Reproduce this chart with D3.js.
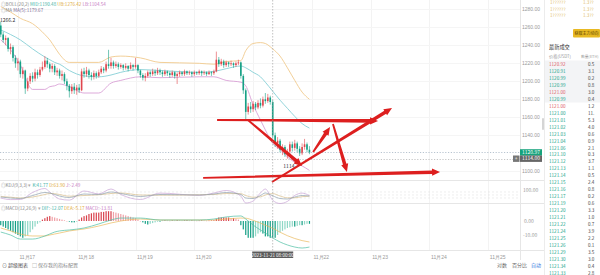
<!DOCTYPE html>
<html><head><meta charset="utf-8">
<script src="https://cdn.jsdelivr.net/npm/d3@7"></script>
<style>
html,body{margin:0;padding:0;background:#fff;overflow:hidden}
svg{display:block;font-family:"Noto Sans CJK SC","Noto Sans",sans-serif}
</style></head><body>
<svg id="c" width="600" height="275"></svg>
<script>
// ---------------- DATA ----------------
const startTime = new Date(2023, 10, 16, 17, 0, 0); // first hourly candle
const firstOpen = 1262;
const closes = [1252,1246,1248,1236,1238,1226,1220,1222,1208,1212,1192,1200,1206,1203,1210,1207,1213,1216,1223,1219,
1214,1217,1210,1212,1206,1208,1200,1195,1189,1194,1190,1193,1190,1211,1208,1212,1207,1205,1209,1206,
1210,1214,1212,1219,1217,1221,1217,1219,1216,1218,1215,1217,1214,1218,1216,1218,1212,1207,1204,1206,
1210,1208,1211,1209,1212,1210,1208,1211,1209,1207,1210,1206,1208,1210,1208,1211,1209,1210,1208,1210,
1209,1211,1209,1210,1208,1210,1209,1211,1224,1219,1222,1218,1221,1219,1220,1218,1220,1221,1206,1190,
1166,1172,1169,1175,1171,1176,1173,1180,1178,1182,1177,1140,1131,1134,1124,1127,1119,1122,1130,1126,
1131,1125,1120,1127,1130,1124,1121];
const highs = [1266.2,1255,1251,1249,1242,1240,1229,1226,1224,1216,1213,1204,1209,1210,1214,1213,1216,1222,1228,1226,
1221,1220,1219,1215,1214,1212,1210,1203,1197,1197,1198,1196,1197,1214,1215,1216,1214,1210,1212,1211,
1213,1217,1216,1222,1235,1226,1223,1222,1221,1220,1219,1220,1218,1221,1219,1226,1219,1213,1209,1209,
1212,1212,1214,1213,1215,1214,1212,1213,1212,1211,1212,1211,1210,1212,1211,1213,1212,1212,1211,1212,
1211,1213,1212,1212,1211,1212,1211,1213,1233,1227,1225,1224,1223,1222,1223,1221,1222,1224,1222,1208,
1192,1176,1177,1178,1177,1179,1181,1183,1187,1186,1184,1179,1143,1138,1136,1130,1129,1125,1133,1133,
1135,1133,1128,1131,1136,1132,1128];
const lows = [1249,1243,1240,1233,1230,1222,1215,1212,1204,1203,1186,1189,1197,1199,1200,1203,1205,1211,1214,1215,
1210,1210,1207,1206,1203,1201,1197,1190,1182,1186,1186,1185,1187,1189,1204,1205,1203,1201,1202,1203,
1204,1208,1209,1210,1214,1214,1214,1215,1213,1214,1212,1213,1211,1213,1212,1214,1209,1204,1201,1200,
1204,1205,1206,1206,1207,1207,1205,1206,1206,1204,1205,1203,1197,1205,1206,1206,1207,1207,1205,1206,
1207,1207,1206,1207,1206,1207,1206,1207,1210,1216,1217,1215,1216,1216,1217,1215,1216,1218,1203,1186,
1158,1163,1165,1166,1168,1169,1170,1171,1175,1176,1174,1137,1127,1125,1121,1118,1116,1114,1119,1122,
1123,1121,1117,1118,1124,1121,1119];

// indicator samples (hour offsets from startTime)
const sampleHours = [0,4,8,13,18,20,22,24,28,34,40,45,49,57,65,81,87,92,98,100,103,106,108,111,114,117,120,123,126];
const bollUB  = [1283,1277,1270,1264,1252,1246,1238,1230,1221,1221,1221,1227,1228,1226,1221,1220,1219,1222,1223,1234,1242,1243,1242,1236,1228,1215,1201,1188,1180];
const bollMID = [1257,1252,1246,1236,1227,1224,1221,1219,1212,1206,1205,1207,1210,1213,1212,1210,1211,1214,1217,1215,1210,1205,1199,1189,1179,1170,1161,1153,1148];
const bollLB  = [1246,1235,1218,1191,1191,1194,1195,1197,1194,1187,1187,1198,1201,1205,1204,1205,1205,1201,1199,1195,1174,1157,1146,1131,1124,1116,1110,1106,1101];
const kdjK = [30,20,15,45,75,70,55,40,25,60,55,80,65,35,55,50,60,75,55,20,15,45,70,41.77,15,10,30,45,40];
const kdjD = [35,28,20,30,55,65,63,55,38,45,52,65,70,50,48,52,55,65,63,45,28,32,50,63.9,40,22,22,33,38];
const kdjJ = [20,4,5,75,115,80,39,10,-1,90,61,110,55,5,69,46,70,95,39,-30,-11,71,110,-2.49,-35,-14,46,69,44];
const macdDIF = [-7.9,-10,-12.9,-12.9,-10.7,-9.3,-7.9,-7.1,-6.4,-5,-2.1,0.7,2.1,2.1,0.7,0.7,1.4,2.9,3.6,1.4,-2.9,-6.4,-8.6,-12.07,-15,-17.1,-18.6,-19.3,-18.6];
const macdDEA = [-5,-7.1,-9.3,-10.7,-10.7,-10,-9.3,-8.6,-7.1,-5.7,-3.6,-1.4,0,1.4,0.7,0.7,0.7,1.4,2.1,2,0.5,-1.5,-3,-5.17,-8,-10.5,-12.5,-14,-15];
const macdHist = [-3,-4,-5,-6,-7,-8,-9,-10,-11,-12,-11,-10,-8,-6,-4,-2,-1,1,2,3,
3.5,3,2.5,2,1.5,1,0.5,0,-0.5,-1,-1,-0.5,1,2.5,3.5,4,5,5.5,6,6,
6,6.5,6.5,7,7,7,6.5,6,5.5,5,4.5,4,3.5,3,2.5,2,1,0,-1,-2,
-2.5,-2,-1.5,-1,-0.5,-0.5,0.3,0.4,0.3,0.2,0.4,0.3,0.5,0.4,0.3,0.4,0.5,0.3,0.4,0.3,
0.2,0.3,0.4,0.3,0.2,0.3,0.4,0.5,1.5,2.5,2.5,2.5,2.5,2.5,2,2,1.5,1,-3,-6,
-10,-12,-12,-12,-11,-9,-8,-9,-11,-11,-12,-12,-12,-10,-8,-7,-6,-5,-4.5,-4,
-4,-3.5,-3,-3,-2.5,-2,-2];

const priceTicks = [1280,1260,1240,1220,1200,1180,1160,1140,1100];
const dayTicks = [17,18,19,20,21,22,23,24,25];
const dayLabels = [17,18,19,20,22,23,24,25]; // 11月21 is covered by the crosshair tag
const lastPrice = 1120.97;
const markPrice = 1114.00;
const crossHour = 111;

// hand drawn red arrows: [hour0, price0, hour1, price1]
const drawings = [
  [88.3,1157,154,1156],
  [110.7,1088,159.7,1170.3],
  [100.9,1157,123,1106],
  [127.5,1121.4,134.4,1149.2],
  [135.6,1152.6,141.3,1099.2],
  [82.6,1092.6,179.3,1099.2]
];

const bookPrices = ["1120.92","1120.91","1120.99","1120.99","1121.00","1120.99","1121.00","1121.00","1121.01","1121.02","1121.03","1121.04","1121.06","1121.10","1121.12","1121.13","1121.14","1121.15","1121.16","1121.17","1121.19","1121.20","1121.21","1121.22","1121.24","1121.25","1121.26","1121.29","1121.30","1121.34","1121.33"];
const bookSides = ["s","b","b","b","s","b","s","b","b","b","b","b","b","b","b","b","b","b","b","b","b","b","b","b","b","b","b","b","b","b","b"];
const bookQty = ["0.5","3.1","0.2","0.8","3.0","0.4","1.2","11.","5.3","4.0","0.6","0.9","2.1","0.3","3.7","1.1","0.5","2.4","0.8","0.2","0.6","3.3","1.0","0.7","3.9","2.2","0.1","3.5","3.0","0.4","2.8"];
const bookTop = [["1??????","1.3??"],["1??????","1.3??"],["1??????","1.3??"]];

// ---------------- DRAW ----------------
const svg = d3.select("#c");
const W = 600, H = 275;
const plotR = 520;
const hourMs = 3600e3;
const tOf = h => new Date(startTime.getTime() + h*hourMs);

const x = d3.scaleTime()
  .domain([new Date(2023,10,17), new Date(2023,10,22)])
  .range([17.9, 311.9]);
const y = d3.scaleLinear().domain([1100,1280]).range([171.3, 9.3]);
const yK = d3.scaleLinear().domain([0,100]).range([200, 190]);
const yM = d3.scaleLinear().domain([-10,0]).range([235, 221]);

const fontS = 5;
const gray = "#9a9a9a";

svg.append("rect").attr("width",W).attr("height",H).attr("fill","#fff");

const defs = svg.append("defs");
defs.append("clipPath").attr("id","cm").append("rect").attr("x",0).attr("y",0).attr("width",plotR).attr("height",180);
defs.append("clipPath").attr("id","ck").append("rect").attr("x",0).attr("y",181).attr("width",plotR).attr("height",23);
defs.append("clipPath").attr("id","cd").append("rect").attr("x",0).attr("y",204).attr("width",plotR).attr("height",46);

// grid
const grid = svg.append("g");
dayTicks.forEach(d => {
  const xx = Math.round(x(new Date(2023,10,d))) + 0.5;
  grid.append("line").attr("x1",xx).attr("x2",xx).attr("y1",0).attr("y2",250).attr("stroke","#f3f3f3");
});
priceTicks.forEach(p => {
  const yy = Math.round(y(p)) + 0.5;
  grid.append("line").attr("x1",0).attr("x2",plotR).attr("y1",yy).attr("y2",yy).attr("stroke","#f5f5f5");
});
// pane separators
[180.5, 203.5, 250.5].forEach(yy => svg.append("line").attr("x1",0).attr("x2",544).attr("y1",yy).attr("y2",yy).attr("stroke","#e6e6e6"));
svg.append("line").attr("x1",520.5).attr("x2",520.5).attr("y1",0).attr("y2",260).attr("stroke","#e6e6e6");
svg.append("line").attr("x1",544.5).attr("x2",544.5).attr("y1",0).attr("y2",H).attr("stroke","#ececec");

// ----- main pane -----
const main = svg.append("g").attr("clip-path","url(#cm)");
const lineS = (vals, ys) => d3.line().x((d,i)=>x(tOf(sampleHours[i]))).y(d=>ys(d)).curve(d3.curveMonotoneX)(vals);
main.append("path").attr("d", lineS(bollUB, y)).attr("fill","none").attr("stroke","#f0c98c").attr("stroke-width",0.9);
main.append("path").attr("d", lineS(bollMID, y)).attr("fill","none").attr("stroke","#86cfd6").attr("stroke-width",0.9);
main.append("path").attr("d", lineS(bollLB, y)).attr("fill","none").attr("stroke","#d9a0d6").attr("stroke-width",0.9);

const up = "#e0464e", down = "#16a085";
const candles = closes.map((c,i)=>({t:tOf(i), o: i ? closes[i-1] : firstOpen, c, h: highs[i], l: lows[i]}));
const cg = main.append("g");
candles.forEach(d => {
  const cx = x(d.t);
  const col = d.c >= d.o ? up : down;
  cg.append("line").attr("x1",cx).attr("x2",cx).attr("y1",y(Math.max(d.h,d.o,d.c))).attr("y2",y(Math.min(d.l,d.o,d.c))).attr("stroke",col).attr("stroke-width",0.6);
  const top = y(Math.max(d.o,d.c)), bot = y(Math.min(d.o,d.c));
  cg.append("rect").attr("x",cx-0.8).attr("width",1.6).attr("y",top).attr("height",Math.max(0.6,bot-top)).attr("fill",col);
});

// price level dotted lines
[[lastPrice,"#9ab"],[markPrice,"#aaa"]].forEach(([p,c]) => {
  const yy = Math.round(y(p))+0.5;
  svg.append("line").attr("x1",0).attr("x2",plotR).attr("y1",yy).attr("y2",yy).attr("stroke",c).attr("stroke-width",0.7).attr("stroke-dasharray","1.2,1.6");
});

// high / low markers
const hiIdx = d3.maxIndex(highs), loIdx = d3.minIndex(lows);
main.append("text").attr("x",0).attr("y",y(highs[hiIdx])+0.5).attr("font-size",fontS).attr("fill","#333").text(highs[hiIdx].toFixed(1));
main.append("text").attr("x",x(tOf(loIdx))+1.5).attr("y",y(lows[loIdx])+9).attr("text-anchor","middle").attr("font-size",fontS).attr("fill","#333").text(String(lows[loIdx]));

// red arrows
const ar = svg.append("g");
drawings.forEach(([h0,p0,h1,p1]) => {
  const x0 = x(tOf(h0)), y0 = y(p0), x1 = x(tOf(h1)), y1 = y(p1);
  const L = Math.hypot(x1-x0, y1-y0), ux = (x1-x0)/L, uy = (y1-y0)/L, nx = -uy, ny = ux;
  const hl = 8, hw = 3.6, w0 = 0.9, w1 = 1.8;
  const bx = x1 - ux*hl, by = y1 - uy*hl;
  const pts = [[x0+nx*w0,y0+ny*w0],[bx+nx*w1,by+ny*w1],[bx+nx*hw,by+ny*hw],[x1,y1],[bx-nx*hw,by-ny*hw],[bx-nx*w1,by-ny*w1],[x0-nx*w0,y0-ny*w0]];
  ar.append("path").attr("d","M"+pts.map(p=>p.join(",")).join("L")+"Z").attr("fill","#dd1f1f");
});

// ----- KDJ pane -----
const kg = svg.append("g").attr("clip-path","url(#ck)");
[80,50,20].forEach(v=>{
  kg.append("line").attr("x1",0).attr("x2",plotR).attr("y1",yK(v)).attr("y2",yK(v)).attr("stroke","#e3e3e3").attr("stroke-width",0.6).attr("stroke-dasharray","2,2");
});
kg.append("path").attr("d", lineS(kdjJ, yK)).attr("fill","none").attr("stroke","#c9a3d6").attr("stroke-width",0.7);
kg.append("path").attr("d", lineS(kdjD, yK)).attr("fill","none").attr("stroke","#d9bd8a").attr("stroke-width",0.7);
kg.append("path").attr("d", lineS(kdjK, yK)).attr("fill","none").attr("stroke","#8e9fae").attr("stroke-width",0.7);

// ----- MACD pane -----
const mg = svg.append("g").attr("clip-path","url(#cd)");
macdHist.forEach((v,i) => {
  const prev = i ? macdHist[i-1] : v;
  const grow = Math.abs(v) >= Math.abs(prev);
  const col = v >= 0 ? (grow ? "#d9434d" : "#f0a0a6") : (grow ? "#14a085" : "#8fd8c6");
  const y0 = yM(0), y1 = yM(v);
  mg.append("rect").attr("x",x(tOf(i))-0.6).attr("width",1.2).attr("y",Math.min(y0,y1)).attr("height",Math.max(0.5,Math.abs(y1-y0))).attr("fill",col);
});
mg.append("path").attr("d", lineS(macdDEA, yM)).attr("fill","none").attr("stroke","#e9b95c").attr("stroke-width",0.7);
mg.append("path").attr("d", lineS(macdDIF, yM)).attr("fill","none").attr("stroke","#4dbfa4").attr("stroke-width",0.7);

// ----- axes -----
const ay = svg.append("g").attr("transform","translate(522,0)")
  .call(d3.axisRight(y).tickValues(priceTicks).tickSize(0).tickPadding(0).tickFormat(d3.format(".2f")));
ay.select(".domain").remove();
ay.selectAll("text").attr("font-size",fontS).attr("fill",gray).attr("font-family","inherit");
svg.append("text").attr("x",523).attr("y",yK(100)).attr("dy","0.35em").attr("font-size",fontS).attr("fill",gray).text("100.00");
svg.append("text").attr("x",524).attr("y",yM(0)).attr("dy","0.35em").attr("font-size",fontS).attr("fill",gray).text("0.00");
svg.append("text").attr("x",523).attr("y",yM(-10)).attr("dy","0.35em").attr("font-size",fontS).attr("fill",gray).text("-10.00");

const ax = svg.append("g").attr("transform","translate(0,251)")
  .call(d3.axisBottom(x).tickValues(dayLabels.map(d=>new Date(2023,10,d))).tickSize(0).tickPadding(4)
    .tickFormat(d => `${d.getMonth()+1}月${d.getDate()}`));
ax.select(".domain").remove();
ax.selectAll("text").attr("font-size",fontS).attr("fill",gray).attr("text-anchor","start").attr("dx",1);

// current price boxes
svg.append("rect").attr("x",520).attr("y",y(lastPrice)-3.2).attr("width",22).attr("height",6.4).attr("fill","#16a37c");
svg.append("text").attr("x",531).attr("y",y(lastPrice)).attr("dy","0.35em").attr("text-anchor","middle").attr("font-size",fontS).attr("fill","#fff").text(lastPrice.toFixed(2));
svg.append("rect").attr("x",513).attr("y",y(markPrice)-3.2).attr("width",6.5).attr("height",6.4).attr("fill","#777");
svg.append("text").attr("x",516.2).attr("y",y(markPrice)).attr("dy","0.35em").attr("text-anchor","middle").attr("font-size",fontS).attr("fill","#fff").text("+");
svg.append("rect").attr("x",520).attr("y",y(markPrice)-3.2).attr("width",22).attr("height",6.4).attr("fill","#666");
svg.append("text").attr("x",531).attr("y",y(markPrice)).attr("dy","0.35em").attr("text-anchor","middle").attr("font-size",fontS).attr("fill","#fff").text(markPrice.toFixed(2));
svg.append("rect").attr("x",542).attr("y",118).attr("width",2).attr("height",12).attr("rx",1).attr("fill","#d5d5d5");

// crosshair
const cx = x(tOf(crossHour));
svg.append("line").attr("x1",cx).attr("x2",cx).attr("y1",0).attr("y2",251).attr("stroke","#999").attr("stroke-width",0.6).attr("stroke-dasharray","1.5,1.5");
svg.append("rect").attr("x",cx-20.5).attr("y",251.5).attr("width",41).attr("height",6.5).attr("fill","#5b5b5b");
svg.append("text").attr("x",cx).attr("y",254.9).attr("dy","0.35em").attr("text-anchor","middle").attr("font-size",4.6).attr("fill","#fff").text(d3.timeFormat("%Y-%m-%d %H:%M:%S")(tOf(crossHour)));

// legends
function legend(yy, parts){
  const t = svg.append("text").attr("x",1).attr("y",yy).attr("font-size",4.6);
  parts.forEach(([s,c]) => t.append("tspan").attr("fill",c).text(s));
}
legend(5.5,[["◎","#aaa"],["BOLL(20,2) ","#888"],[" MID:1190.48 ","#3fb3a8"],[" UB:1276.42 ","#e0a93c"],[" LB:1104.54","#c77cc4"]]);
legend(12,[["◎","#aaa"],["MA ","#888"],["  MA(5):1179.67","#7c6b94"]]);
legend(187,[["◎","#aaa"],["KDJ(9,3,3) ","#888"],["  ▾  ","#aaa"],["K:41.77 ","#3fb3a8"],[" D:63.90 ","#e0a93c"],[" J:-2.49","#c77cc4"]]);
legend(210,[["◎","#aaa"],["MACD(12,26,9) ","#888"],[" ▾ ","#aaa"],[" DIF:-12.07 ","#3fb3a8"],[" DEA:-5.17 ","#e0a93c"],[" MACD:-13.81","#c77cc4"]]);

// bottom toolbar
svg.append("text").attr("x",2).attr("y",267).attr("font-size",5).attr("fill","#555").text("⊙ 超级图表");
svg.append("text").attr("x",32).attr("y",267).attr("font-size",5).attr("fill","#888").text("□ 保存我的指标配置");
svg.append("text").attr("x",497).attr("y",267).attr("font-size",5).attr("fill","#666").text("对数");
svg.append("text").attr("x",512).attr("y",267).attr("font-size",5).attr("fill","#666").text("百分比");
svg.append("text").attr("x",531).attr("y",267).attr("font-size",5).attr("fill","#3b7de0").text("自动");

// ----- right panel (order book) -----
const rp = svg.append("g");
bookTop.forEach((r,i)=>{
  rp.append("text").attr("x",550).attr("y",4+i*6.5).attr("font-size",4.6).attr("fill","#e2be6a").text(r[0]);
  rp.append("text").attr("x",583).attr("y",4+i*6.5).attr("font-size",4.6).attr("fill","#e2be6a").text(r[1]);
});
rp.append("rect").attr("x",573).attr("y",29).attr("width",27).attr("height",8.5).attr("rx",1).attr("fill","#e8b923");
rp.append("text").attr("x",574.5).attr("y",34.8).attr("font-size",4).attr("fill","#5a4000").text("获取主力动向");
rp.append("text").attr("x",549).attr("y",49).attr("font-size",5.2).attr("fill","#333").text("最新成交");
rp.append("text").attr("x",549).attr("y",58).attr("font-size",4.2).attr("fill","#999").text("价格(USDT)");
rp.append("text").attr("x",581).attr("y",58).attr("font-size",3.8).attr("fill","#999").text("数量(ETH)");
rp.append("rect").attr("x",545).attr("y",60.5).attr("width",55).attr("height",42).attr("fill","#f3f4f6");
bookPrices.forEach((p,i)=>{
  const yy = 64.5 + i*6.95;
  const col = bookSides[i] === "s" ? "#e05a66" : "#1aa58a";
  rp.append("text").attr("x",549).attr("y",yy).attr("dy","0.35em").attr("font-size",4.6).attr("fill",col).text(p);
  rp.append("text").attr("x",588).attr("y",yy).attr("dy","0.35em").attr("font-size",4.6).attr("fill","#444").text(bookQty[i]);
});
</script>
</body></html>
